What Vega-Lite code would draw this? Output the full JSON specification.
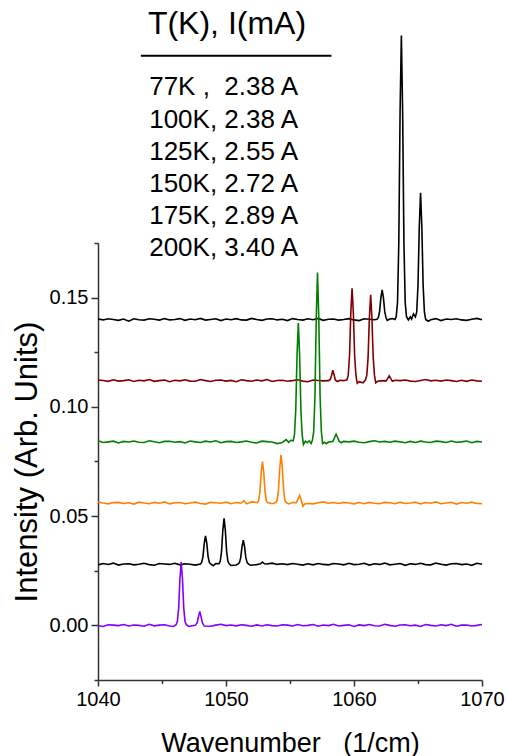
{
"$schema":"https://vega.github.io/schema/vega-lite/v6.json",
"width":384,"height":437,
"autosize":"none",
"padding":{"left":98,"top":243,"right":25,"bottom":76},
"config":{"view":{"stroke":null},"font":"Liberation Sans"},
"datasets":{
"heading":[{"label":"T(K), I(mA)","x":1043.9,"y":0.2706}],
"rows":[
{"label":"77K ,\u00a0 2.38 A","x":1044.0,"y":0.2428},
{"label":"100K, 2.38 A","x":1044.0,"y":0.2278},
{"label":"125K, 2.55 A","x":1044.0,"y":0.2129},
{"label":"150K, 2.72 A","x":1044.0,"y":0.1984},
{"label":"175K, 2.89 A","x":1044.0,"y":0.1837},
{"label":"200K, 3.40 A","x":1044.0,"y":0.1691}],
"underline":[{"x":1043.35,"x2":1058.24,"y":0.2607}],
"spectra":[
{"T":"77K","x":1040,"y":0.1402},{"T":"77K","x":1040.4,"y":0.1398},{"T":"77K","x":1040.8,"y":0.1403},{"T":"77K","x":1041.2,"y":0.1400},{"T":"77K","x":1041.6,"y":0.1396},{"T":"77K","x":1042,"y":0.1402},{"T":"77K","x":1042.4,"y":0.1392},{"T":"77K","x":1042.8,"y":0.1403},{"T":"77K","x":1043.2,"y":0.1399},{"T":"77K","x":1043.6,"y":0.1397},{"T":"77K","x":1044,"y":0.1403},{"T":"77K","x":1044.4,"y":0.1401},{"T":"77K","x":1044.8,"y":0.1397},{"T":"77K","x":1045.2,"y":0.1404},{"T":"77K","x":1045.6,"y":0.1398},{"T":"77K","x":1046,"y":0.1400},{"T":"77K","x":1046.4,"y":0.1404},{"T":"77K","x":1046.8,"y":0.1396},{"T":"77K","x":1047.2,"y":0.1402},{"T":"77K","x":1047.6,"y":0.1399},{"T":"77K","x":1048,"y":0.1405},{"T":"77K","x":1048.4,"y":0.1397},{"T":"77K","x":1048.8,"y":0.1400},{"T":"77K","x":1049.2,"y":0.1403},{"T":"77K","x":1049.6,"y":0.1395},{"T":"77K","x":1050,"y":0.1402},{"T":"77K","x":1050.4,"y":0.1399},{"T":"77K","x":1050.8,"y":0.1404},{"T":"77K","x":1051.2,"y":0.1398},{"T":"77K","x":1051.6,"y":0.1397},{"T":"77K","x":1052,"y":0.1405},{"T":"77K","x":1052.4,"y":0.1400},{"T":"77K","x":1052.8,"y":0.1396},{"T":"77K","x":1053.2,"y":0.1402},{"T":"77K","x":1053.6,"y":0.1403},{"T":"77K","x":1054,"y":0.1398},{"T":"77K","x":1054.4,"y":0.1401},{"T":"77K","x":1054.8,"y":0.1395},{"T":"77K","x":1055.2,"y":0.1404},{"T":"77K","x":1055.6,"y":0.1400},{"T":"77K","x":1056,"y":0.1397},{"T":"77K","x":1056.4,"y":0.1403},{"T":"77K","x":1056.8,"y":0.1399},{"T":"77K","x":1057.2,"y":0.1405},{"T":"77K","x":1057.6,"y":0.1396},{"T":"77K","x":1058,"y":0.1401},{"T":"77K","x":1058.4,"y":0.1402},{"T":"77K","x":1058.8,"y":0.1397},{"T":"77K","x":1059.2,"y":0.1400},{"T":"77K","x":1059.6,"y":0.1404},{"T":"77K","x":1060,"y":0.1398},{"T":"77K","x":1060.4,"y":0.1395},{"T":"77K","x":1060.8,"y":0.1403},{"T":"77K","x":1061.2,"y":0.1401},{"T":"77K","x":1061.6,"y":0.1399},{"T":"77K","x":1061.8,"y":0.1401},{"T":"77K","x":1061.9,"y":0.1408},{"T":"77K","x":1062,"y":0.1437},{"T":"77K","x":1062.1,"y":0.1499},{"T":"77K","x":1062.2,"y":0.1536},{"T":"77K","x":1062.3,"y":0.1499},{"T":"77K","x":1062.4,"y":0.1437},{"T":"77K","x":1062.5,"y":0.1408},{"T":"77K","x":1062.6,"y":0.1396},{"T":"77K","x":1062.8,"y":0.1402},{"T":"77K","x":1063,"y":0.1404},{"T":"77K","x":1063.2,"y":0.1400},{"T":"77K","x":1063.3,"y":0.1413},{"T":"77K","x":1063.4,"y":0.1478},{"T":"77K","x":1063.5,"y":0.1751},{"T":"77K","x":1063.6,"y":0.2349},{"T":"77K","x":1063.7,"y":0.2700},{"T":"77K","x":1063.8,"y":0.2349},{"T":"77K","x":1063.9,"y":0.1751},{"T":"77K","x":1064,"y":0.1478},{"T":"77K","x":1064.1,"y":0.1413},{"T":"77K","x":1064.25,"y":0.1398},{"T":"77K","x":1064.4,"y":0.1412},{"T":"77K","x":1064.5,"y":0.1402},{"T":"77K","x":1064.65,"y":0.1425},{"T":"77K","x":1064.8,"y":0.1412},{"T":"77K","x":1064.9,"y":0.1435},{"T":"77K","x":1065,"y":0.1557},{"T":"77K","x":1065.1,"y":0.1823},{"T":"77K","x":1065.2,"y":0.1980},{"T":"77K","x":1065.3,"y":0.1823},{"T":"77K","x":1065.4,"y":0.1557},{"T":"77K","x":1065.5,"y":0.1435},{"T":"77K","x":1065.6,"y":0.1400},{"T":"77K","x":1065.8,"y":0.1392},{"T":"77K","x":1066,"y":0.1399},{"T":"77K","x":1066.4,"y":0.1404},{"T":"77K","x":1066.8,"y":0.1395},{"T":"77K","x":1067.2,"y":0.1402},{"T":"77K","x":1067.6,"y":0.1400},{"T":"77K","x":1068,"y":0.1403},{"T":"77K","x":1068.4,"y":0.1398},{"T":"77K","x":1068.8,"y":0.1396},{"T":"77K","x":1069.2,"y":0.1401},{"T":"77K","x":1069.6,"y":0.1405},{"T":"77K","x":1070,"y":0.1399},
{"T":"100K","x":1040,"y":0.1123},{"T":"100K","x":1040.4,"y":0.1121},{"T":"100K","x":1040.8,"y":0.1117},{"T":"100K","x":1041.2,"y":0.1124},{"T":"100K","x":1041.6,"y":0.1118},{"T":"100K","x":1042,"y":0.1120},{"T":"100K","x":1042.4,"y":0.1124},{"T":"100K","x":1042.8,"y":0.1116},{"T":"100K","x":1043.2,"y":0.1122},{"T":"100K","x":1043.6,"y":0.1119},{"T":"100K","x":1044,"y":0.1125},{"T":"100K","x":1044.4,"y":0.1117},{"T":"100K","x":1044.8,"y":0.1120},{"T":"100K","x":1045.2,"y":0.1123},{"T":"100K","x":1045.6,"y":0.1115},{"T":"100K","x":1046,"y":0.1122},{"T":"100K","x":1046.4,"y":0.1119},{"T":"100K","x":1046.8,"y":0.1124},{"T":"100K","x":1047.2,"y":0.1118},{"T":"100K","x":1047.6,"y":0.1117},{"T":"100K","x":1048,"y":0.1125},{"T":"100K","x":1048.4,"y":0.1120},{"T":"100K","x":1048.8,"y":0.1116},{"T":"100K","x":1049.2,"y":0.1122},{"T":"100K","x":1049.6,"y":0.1123},{"T":"100K","x":1050,"y":0.1118},{"T":"100K","x":1050.4,"y":0.1121},{"T":"100K","x":1050.8,"y":0.1115},{"T":"100K","x":1051.2,"y":0.1124},{"T":"100K","x":1051.6,"y":0.1120},{"T":"100K","x":1052,"y":0.1117},{"T":"100K","x":1052.4,"y":0.1123},{"T":"100K","x":1052.8,"y":0.1119},{"T":"100K","x":1053.2,"y":0.1125},{"T":"100K","x":1053.6,"y":0.1116},{"T":"100K","x":1054,"y":0.1121},{"T":"100K","x":1054.4,"y":0.1122},{"T":"100K","x":1054.8,"y":0.1117},{"T":"100K","x":1055.2,"y":0.1120},{"T":"100K","x":1055.6,"y":0.1124},{"T":"100K","x":1056,"y":0.1118},{"T":"100K","x":1056.4,"y":0.1115},{"T":"100K","x":1056.8,"y":0.1123},{"T":"100K","x":1057.2,"y":0.1121},{"T":"100K","x":1057.6,"y":0.1119},{"T":"100K","x":1058,"y":0.1120},{"T":"100K","x":1058.15,"y":0.1125},{"T":"100K","x":1058.25,"y":0.1145},{"T":"100K","x":1058.35,"y":0.1168},{"T":"100K","x":1058.45,"y":0.1145},{"T":"100K","x":1058.55,"y":0.1122},{"T":"100K","x":1058.7,"y":0.1116},{"T":"100K","x":1058.9,"y":0.1122},{"T":"100K","x":1059.2,"y":0.1120},{"T":"100K","x":1059.45,"y":0.1124},{"T":"100K","x":1059.55,"y":0.1145},{"T":"100K","x":1059.65,"y":0.1234},{"T":"100K","x":1059.75,"y":0.1429},{"T":"100K","x":1059.85,"y":0.1543},{"T":"100K","x":1059.95,"y":0.1429},{"T":"100K","x":1060.05,"y":0.1234},{"T":"100K","x":1060.15,"y":0.1145},{"T":"100K","x":1060.25,"y":0.1108},{"T":"100K","x":1060.4,"y":0.1115},{"T":"100K","x":1060.7,"y":0.1110},{"T":"100K","x":1060.9,"y":0.1124},{"T":"100K","x":1061,"y":0.1144},{"T":"100K","x":1061.1,"y":0.1226},{"T":"100K","x":1061.2,"y":0.1407},{"T":"100K","x":1061.3,"y":0.1513},{"T":"100K","x":1061.4,"y":0.1407},{"T":"100K","x":1061.5,"y":0.1226},{"T":"100K","x":1061.6,"y":0.1144},{"T":"100K","x":1061.7,"y":0.1110},{"T":"100K","x":1061.85,"y":0.1117},{"T":"100K","x":1062,"y":0.1119},{"T":"100K","x":1062.4,"y":0.1120},{"T":"100K","x":1062.5,"y":0.1118},{"T":"100K","x":1062.6,"y":0.1127},{"T":"100K","x":1062.75,"y":0.1142},{"T":"100K","x":1062.9,"y":0.1127},{"T":"100K","x":1063,"y":0.1117},{"T":"100K","x":1063.2,"y":0.1122},{"T":"100K","x":1063.6,"y":0.1120},{"T":"100K","x":1064,"y":0.1123},{"T":"100K","x":1064.4,"y":0.1118},{"T":"100K","x":1064.8,"y":0.1116},{"T":"100K","x":1065.2,"y":0.1121},{"T":"100K","x":1065.6,"y":0.1125},{"T":"100K","x":1066,"y":0.1119},{"T":"100K","x":1066.4,"y":0.1122},{"T":"100K","x":1066.8,"y":0.1118},{"T":"100K","x":1067.2,"y":0.1123},{"T":"100K","x":1067.6,"y":0.1120},{"T":"100K","x":1068,"y":0.1116},{"T":"100K","x":1068.4,"y":0.1122},{"T":"100K","x":1068.8,"y":0.1117},{"T":"100K","x":1069.2,"y":0.1123},{"T":"100K","x":1069.6,"y":0.1119},{"T":"100K","x":1070,"y":0.1117},
{"T":"125K","x":1040,"y":0.0845},{"T":"125K","x":1040.4,"y":0.0837},{"T":"125K","x":1040.8,"y":0.0840},{"T":"125K","x":1041.2,"y":0.0843},{"T":"125K","x":1041.6,"y":0.0835},{"T":"125K","x":1042,"y":0.0842},{"T":"125K","x":1042.4,"y":0.0839},{"T":"125K","x":1042.8,"y":0.0844},{"T":"125K","x":1043.2,"y":0.0838},{"T":"125K","x":1043.6,"y":0.0837},{"T":"125K","x":1044,"y":0.0845},{"T":"125K","x":1044.4,"y":0.0840},{"T":"125K","x":1044.8,"y":0.0836},{"T":"125K","x":1045.2,"y":0.0842},{"T":"125K","x":1045.6,"y":0.0843},{"T":"125K","x":1046,"y":0.0838},{"T":"125K","x":1046.4,"y":0.0841},{"T":"125K","x":1046.8,"y":0.0835},{"T":"125K","x":1047.2,"y":0.0844},{"T":"125K","x":1047.6,"y":0.0840},{"T":"125K","x":1048,"y":0.0837},{"T":"125K","x":1048.4,"y":0.0843},{"T":"125K","x":1048.8,"y":0.0839},{"T":"125K","x":1049.2,"y":0.0845},{"T":"125K","x":1049.6,"y":0.0836},{"T":"125K","x":1050,"y":0.0841},{"T":"125K","x":1050.4,"y":0.0842},{"T":"125K","x":1050.8,"y":0.0837},{"T":"125K","x":1051.2,"y":0.0840},{"T":"125K","x":1051.6,"y":0.0844},{"T":"125K","x":1052,"y":0.0838},{"T":"125K","x":1052.4,"y":0.0835},{"T":"125K","x":1052.8,"y":0.0843},{"T":"125K","x":1053.2,"y":0.0841},{"T":"125K","x":1053.6,"y":0.0839},{"T":"125K","x":1054,"y":0.0832},{"T":"125K","x":1054.4,"y":0.0837},{"T":"125K","x":1054.7,"y":0.0850},{"T":"125K","x":1054.9,"y":0.0838},{"T":"125K","x":1055.05,"y":0.0847},{"T":"125K","x":1055.25,"y":0.0845},{"T":"125K","x":1055.35,"y":0.0873},{"T":"125K","x":1055.45,"y":0.0987},{"T":"125K","x":1055.55,"y":0.1237},{"T":"125K","x":1055.65,"y":0.1384},{"T":"125K","x":1055.75,"y":0.1237},{"T":"125K","x":1055.85,"y":0.0987},{"T":"125K","x":1055.95,"y":0.0873},{"T":"125K","x":1056.05,"y":0.0828},{"T":"125K","x":1056.2,"y":0.0843},{"T":"125K","x":1056.35,"y":0.0836},{"T":"125K","x":1056.5,"y":0.0845},{"T":"125K","x":1056.65,"y":0.0832},{"T":"125K","x":1056.75,"y":0.0848},{"T":"125K","x":1056.85,"y":0.0887},{"T":"125K","x":1056.95,"y":0.1049},{"T":"125K","x":1057.05,"y":0.1406},{"T":"125K","x":1057.15,"y":0.1615},{"T":"125K","x":1057.25,"y":0.1406},{"T":"125K","x":1057.35,"y":0.1049},{"T":"125K","x":1057.45,"y":0.0887},{"T":"125K","x":1057.55,"y":0.0832},{"T":"125K","x":1057.7,"y":0.0838},{"T":"125K","x":1057.85,"y":0.0831},{"T":"125K","x":1058,"y":0.0839},{"T":"125K","x":1058.35,"y":0.0842},{"T":"125K","x":1058.5,"y":0.0862},{"T":"125K","x":1058.6,"y":0.0875},{"T":"125K","x":1058.7,"y":0.0862},{"T":"125K","x":1058.85,"y":0.0842},{"T":"125K","x":1059,"y":0.0836},{"T":"125K","x":1059.2,"y":0.0842},{"T":"125K","x":1059.6,"y":0.0840},{"T":"125K","x":1060,"y":0.0843},{"T":"125K","x":1060.4,"y":0.0838},{"T":"125K","x":1060.8,"y":0.0836},{"T":"125K","x":1061.2,"y":0.0841},{"T":"125K","x":1061.6,"y":0.0845},{"T":"125K","x":1062,"y":0.0839},{"T":"125K","x":1062.4,"y":0.0842},{"T":"125K","x":1062.8,"y":0.0838},{"T":"125K","x":1063.2,"y":0.0843},{"T":"125K","x":1063.6,"y":0.0840},{"T":"125K","x":1064,"y":0.0836},{"T":"125K","x":1064.4,"y":0.0842},{"T":"125K","x":1064.8,"y":0.0837},{"T":"125K","x":1065.2,"y":0.0843},{"T":"125K","x":1065.6,"y":0.0839},{"T":"125K","x":1066,"y":0.0837},{"T":"125K","x":1066.4,"y":0.0843},{"T":"125K","x":1066.8,"y":0.0841},{"T":"125K","x":1067.2,"y":0.0837},{"T":"125K","x":1067.6,"y":0.0844},{"T":"125K","x":1068,"y":0.0838},{"T":"125K","x":1068.4,"y":0.0840},{"T":"125K","x":1068.8,"y":0.0844},{"T":"125K","x":1069.2,"y":0.0836},{"T":"125K","x":1069.6,"y":0.0842},{"T":"125K","x":1070,"y":0.0839},
{"T":"150K","x":1040,"y":0.0565},{"T":"150K","x":1040.4,"y":0.0560},{"T":"150K","x":1040.8,"y":0.0556},{"T":"150K","x":1041.2,"y":0.0562},{"T":"150K","x":1041.6,"y":0.0563},{"T":"150K","x":1042,"y":0.0558},{"T":"150K","x":1042.4,"y":0.0561},{"T":"150K","x":1042.8,"y":0.0555},{"T":"150K","x":1043.2,"y":0.0564},{"T":"150K","x":1043.6,"y":0.0560},{"T":"150K","x":1044,"y":0.0557},{"T":"150K","x":1044.4,"y":0.0563},{"T":"150K","x":1044.8,"y":0.0559},{"T":"150K","x":1045.2,"y":0.0565},{"T":"150K","x":1045.6,"y":0.0556},{"T":"150K","x":1046,"y":0.0561},{"T":"150K","x":1046.4,"y":0.0562},{"T":"150K","x":1046.8,"y":0.0557},{"T":"150K","x":1047.2,"y":0.0560},{"T":"150K","x":1047.6,"y":0.0564},{"T":"150K","x":1048,"y":0.0558},{"T":"150K","x":1048.4,"y":0.0555},{"T":"150K","x":1048.8,"y":0.0563},{"T":"150K","x":1049.2,"y":0.0561},{"T":"150K","x":1049.6,"y":0.0559},{"T":"150K","x":1050,"y":0.0564},{"T":"150K","x":1050.4,"y":0.0557},{"T":"150K","x":1050.8,"y":0.0562},{"T":"150K","x":1051.2,"y":0.0560},{"T":"150K","x":1051.4,"y":0.0571},{"T":"150K","x":1051.6,"y":0.0556},{"T":"150K","x":1052,"y":0.0565},{"T":"150K","x":1052.45,"y":0.0562},{"T":"150K","x":1052.55,"y":0.0571},{"T":"150K","x":1052.65,"y":0.0611},{"T":"150K","x":1052.75,"y":0.0699},{"T":"150K","x":1052.85,"y":0.0750},{"T":"150K","x":1052.95,"y":0.0699},{"T":"150K","x":1053.05,"y":0.0611},{"T":"150K","x":1053.15,"y":0.0571},{"T":"150K","x":1053.25,"y":0.0562},{"T":"150K","x":1053.6,"y":0.0557},{"T":"150K","x":1053.9,"y":0.0562},{"T":"150K","x":1054,"y":0.0573},{"T":"150K","x":1054.1,"y":0.0619},{"T":"150K","x":1054.2,"y":0.0721},{"T":"150K","x":1054.3,"y":0.0780},{"T":"150K","x":1054.4,"y":0.0721},{"T":"150K","x":1054.5,"y":0.0619},{"T":"150K","x":1054.6,"y":0.0573},{"T":"150K","x":1054.7,"y":0.0562},{"T":"150K","x":1054.9,"y":0.0556},{"T":"150K","x":1055.2,"y":0.0562},{"T":"150K","x":1055.5,"y":0.0562},{"T":"150K","x":1055.65,"y":0.0582},{"T":"150K","x":1055.75,"y":0.0595},{"T":"150K","x":1055.85,"y":0.0578},{"T":"150K","x":1056,"y":0.0545},{"T":"150K","x":1056.15,"y":0.0556},{"T":"150K","x":1056.4,"y":0.0558},{"T":"150K","x":1056.8,"y":0.0556},{"T":"150K","x":1057.2,"y":0.0561},{"T":"150K","x":1057.6,"y":0.0565},{"T":"150K","x":1058,"y":0.0559},{"T":"150K","x":1058.4,"y":0.0562},{"T":"150K","x":1058.8,"y":0.0558},{"T":"150K","x":1059.2,"y":0.0563},{"T":"150K","x":1059.6,"y":0.0560},{"T":"150K","x":1060,"y":0.0556},{"T":"150K","x":1060.4,"y":0.0562},{"T":"150K","x":1060.8,"y":0.0557},{"T":"150K","x":1061.2,"y":0.0563},{"T":"150K","x":1061.6,"y":0.0559},{"T":"150K","x":1062,"y":0.0557},{"T":"150K","x":1062.4,"y":0.0563},{"T":"150K","x":1062.8,"y":0.0561},{"T":"150K","x":1063.2,"y":0.0557},{"T":"150K","x":1063.6,"y":0.0564},{"T":"150K","x":1064,"y":0.0558},{"T":"150K","x":1064.4,"y":0.0560},{"T":"150K","x":1064.8,"y":0.0564},{"T":"150K","x":1065.2,"y":0.0556},{"T":"150K","x":1065.6,"y":0.0562},{"T":"150K","x":1066,"y":0.0559},{"T":"150K","x":1066.4,"y":0.0565},{"T":"150K","x":1066.8,"y":0.0557},{"T":"150K","x":1067.2,"y":0.0560},{"T":"150K","x":1067.6,"y":0.0563},{"T":"150K","x":1068,"y":0.0555},{"T":"150K","x":1068.4,"y":0.0562},{"T":"150K","x":1068.8,"y":0.0559},{"T":"150K","x":1069.2,"y":0.0564},{"T":"150K","x":1069.6,"y":0.0558},{"T":"150K","x":1070,"y":0.0557},
{"T":"175K","x":1040,"y":0.0277},{"T":"175K","x":1040.4,"y":0.0283},{"T":"175K","x":1040.8,"y":0.0279},{"T":"175K","x":1041.2,"y":0.0285},{"T":"175K","x":1041.6,"y":0.0276},{"T":"175K","x":1042,"y":0.0281},{"T":"175K","x":1042.4,"y":0.0282},{"T":"175K","x":1042.8,"y":0.0277},{"T":"175K","x":1043.2,"y":0.0280},{"T":"175K","x":1043.6,"y":0.0284},{"T":"175K","x":1044,"y":0.0278},{"T":"175K","x":1044.4,"y":0.0275},{"T":"175K","x":1044.8,"y":0.0283},{"T":"175K","x":1045.2,"y":0.0281},{"T":"175K","x":1045.6,"y":0.0279},{"T":"175K","x":1046,"y":0.0284},{"T":"175K","x":1046.4,"y":0.0277},{"T":"175K","x":1046.8,"y":0.0282},{"T":"175K","x":1047.2,"y":0.0280},{"T":"175K","x":1047.6,"y":0.0276},{"T":"175K","x":1048,"y":0.0281},{"T":"175K","x":1048.1,"y":0.0288},{"T":"175K","x":1048.2,"y":0.0315},{"T":"175K","x":1048.3,"y":0.0375},{"T":"175K","x":1048.4,"y":0.0410},{"T":"175K","x":1048.5,"y":0.0375},{"T":"175K","x":1048.6,"y":0.0315},{"T":"175K","x":1048.7,"y":0.0288},{"T":"175K","x":1048.8,"y":0.0281},{"T":"175K","x":1049,"y":0.0273},{"T":"175K","x":1049.2,"y":0.0283},{"T":"175K","x":1049.45,"y":0.0282},{"T":"175K","x":1049.55,"y":0.0293},{"T":"175K","x":1049.65,"y":0.0337},{"T":"175K","x":1049.75,"y":0.0433},{"T":"175K","x":1049.85,"y":0.0490},{"T":"175K","x":1049.95,"y":0.0433},{"T":"175K","x":1050.05,"y":0.0337},{"T":"175K","x":1050.15,"y":0.0293},{"T":"175K","x":1050.25,"y":0.0282},{"T":"175K","x":1050.4,"y":0.0274},{"T":"175K","x":1050.8,"y":0.0276},{"T":"175K","x":1050.95,"y":0.0281},{"T":"175K","x":1051.05,"y":0.0287},{"T":"175K","x":1051.15,"y":0.0310},{"T":"175K","x":1051.25,"y":0.0360},{"T":"175K","x":1051.35,"y":0.0390},{"T":"175K","x":1051.45,"y":0.0360},{"T":"175K","x":1051.55,"y":0.0310},{"T":"175K","x":1051.65,"y":0.0287},{"T":"175K","x":1051.75,"y":0.0281},{"T":"175K","x":1051.9,"y":0.0275},{"T":"175K","x":1052.4,"y":0.0278},{"T":"175K","x":1052.7,"y":0.0282},{"T":"175K","x":1052.85,"y":0.0290},{"T":"175K","x":1053,"y":0.0282},{"T":"175K","x":1053.2,"y":0.0281},{"T":"175K","x":1053.6,"y":0.0285},{"T":"175K","x":1054,"y":0.0279},{"T":"175K","x":1054.4,"y":0.0282},{"T":"175K","x":1054.8,"y":0.0278},{"T":"175K","x":1055.2,"y":0.0283},{"T":"175K","x":1055.6,"y":0.0280},{"T":"175K","x":1056,"y":0.0276},{"T":"175K","x":1056.4,"y":0.0282},{"T":"175K","x":1056.8,"y":0.0277},{"T":"175K","x":1057.2,"y":0.0283},{"T":"175K","x":1057.6,"y":0.0279},{"T":"175K","x":1058,"y":0.0277},{"T":"175K","x":1058.4,"y":0.0283},{"T":"175K","x":1058.8,"y":0.0281},{"T":"175K","x":1059.2,"y":0.0277},{"T":"175K","x":1059.6,"y":0.0284},{"T":"175K","x":1060,"y":0.0278},{"T":"175K","x":1060.4,"y":0.0280},{"T":"175K","x":1060.8,"y":0.0284},{"T":"175K","x":1061.2,"y":0.0276},{"T":"175K","x":1061.6,"y":0.0282},{"T":"175K","x":1062,"y":0.0279},{"T":"175K","x":1062.4,"y":0.0285},{"T":"175K","x":1062.8,"y":0.0277},{"T":"175K","x":1063.2,"y":0.0280},{"T":"175K","x":1063.6,"y":0.0283},{"T":"175K","x":1064,"y":0.0275},{"T":"175K","x":1064.4,"y":0.0282},{"T":"175K","x":1064.8,"y":0.0279},{"T":"175K","x":1065.2,"y":0.0284},{"T":"175K","x":1065.6,"y":0.0278},{"T":"175K","x":1066,"y":0.0277},{"T":"175K","x":1066.4,"y":0.0285},{"T":"175K","x":1066.8,"y":0.0280},{"T":"175K","x":1067.2,"y":0.0276},{"T":"175K","x":1067.6,"y":0.0282},{"T":"175K","x":1068,"y":0.0283},{"T":"175K","x":1068.4,"y":0.0278},{"T":"175K","x":1068.8,"y":0.0281},{"T":"175K","x":1069.2,"y":0.0275},{"T":"175K","x":1069.6,"y":0.0284},{"T":"175K","x":1070,"y":0.0280},
{"T":"200K","x":1040,"y":-0.0002},{"T":"200K","x":1040.4,"y":-0.0005},{"T":"200K","x":1040.8,"y":0.0003},{"T":"200K","x":1041.2,"y":0.0001},{"T":"200K","x":1041.6,"y":-0.0001},{"T":"200K","x":1042,"y":0.0004},{"T":"200K","x":1042.4,"y":-0.0003},{"T":"200K","x":1042.8,"y":0.0002},{"T":"200K","x":1043.2,"y":0},{"T":"200K","x":1043.6,"y":-0.0004},{"T":"200K","x":1044,"y":0.0005},{"T":"200K","x":1044.4,"y":-0.0002},{"T":"200K","x":1044.8,"y":0.0001},{"T":"200K","x":1045.2,"y":0.0003},{"T":"200K","x":1045.6,"y":-0.0003},{"T":"200K","x":1045.9,"y":-0.0005},{"T":"200K","x":1046.1,"y":0.0003},{"T":"200K","x":1046.2,"y":0.0017},{"T":"200K","x":1046.3,"y":0.0078},{"T":"200K","x":1046.4,"y":0.0212},{"T":"200K","x":1046.5,"y":0.0290},{"T":"200K","x":1046.6,"y":0.0212},{"T":"200K","x":1046.7,"y":0.0078},{"T":"200K","x":1046.8,"y":0.0017},{"T":"200K","x":1046.9,"y":0.0003},{"T":"200K","x":1047.1,"y":-0.0005},{"T":"200K","x":1047.35,"y":-0.0002},{"T":"200K","x":1047.6,"y":0},{"T":"200K","x":1047.75,"y":0.0012},{"T":"200K","x":1047.85,"y":0.0040},{"T":"200K","x":1047.95,"y":0.0064},{"T":"200K","x":1048.05,"y":0.0040},{"T":"200K","x":1048.15,"y":0.0012},{"T":"200K","x":1048.3,"y":-0.0003},{"T":"200K","x":1048.8,"y":-0.0004},{"T":"200K","x":1049.2,"y":0.0001},{"T":"200K","x":1049.6,"y":0.0005},{"T":"200K","x":1050,"y":-0.0001},{"T":"200K","x":1050.4,"y":0.0002},{"T":"200K","x":1050.8,"y":-0.0002},{"T":"200K","x":1051.2,"y":0.0003},{"T":"200K","x":1051.6,"y":0},{"T":"200K","x":1052,"y":-0.0004},{"T":"200K","x":1052.4,"y":0.0002},{"T":"200K","x":1052.8,"y":-0.0003},{"T":"200K","x":1053.2,"y":0.0003},{"T":"200K","x":1053.6,"y":-0.0001},{"T":"200K","x":1054,"y":-0.0003},{"T":"200K","x":1054.4,"y":0.0003},{"T":"200K","x":1054.8,"y":0.0001},{"T":"200K","x":1055.2,"y":-0.0003},{"T":"200K","x":1055.6,"y":0.0004},{"T":"200K","x":1056,"y":-0.0002},{"T":"200K","x":1056.4,"y":0},{"T":"200K","x":1056.8,"y":0.0004},{"T":"200K","x":1057.2,"y":-0.0004},{"T":"200K","x":1057.6,"y":0.0002},{"T":"200K","x":1058,"y":-0.0001},{"T":"200K","x":1058.4,"y":0.0005},{"T":"200K","x":1058.8,"y":-0.0003},{"T":"200K","x":1059.2,"y":0},{"T":"200K","x":1059.6,"y":0.0003},{"T":"200K","x":1060,"y":-0.0005},{"T":"200K","x":1060.4,"y":0.0002},{"T":"200K","x":1060.8,"y":-0.0001},{"T":"200K","x":1061.2,"y":0.0004},{"T":"200K","x":1061.6,"y":-0.0002},{"T":"200K","x":1062,"y":-0.0003},{"T":"200K","x":1062.4,"y":0.0005},{"T":"200K","x":1062.8,"y":0},{"T":"200K","x":1063.2,"y":-0.0004},{"T":"200K","x":1063.6,"y":0.0002},{"T":"200K","x":1064,"y":0.0003},{"T":"200K","x":1064.4,"y":-0.0002},{"T":"200K","x":1064.8,"y":0.0001},{"T":"200K","x":1065.2,"y":-0.0005},{"T":"200K","x":1065.6,"y":0.0004},{"T":"200K","x":1066,"y":0},{"T":"200K","x":1066.4,"y":-0.0003},{"T":"200K","x":1066.8,"y":0.0003},{"T":"200K","x":1067.2,"y":-0.0001},{"T":"200K","x":1067.6,"y":0.0005},{"T":"200K","x":1068,"y":-0.0004},{"T":"200K","x":1068.4,"y":0.0001},{"T":"200K","x":1068.8,"y":0.0002},{"T":"200K","x":1069.2,"y":-0.0003},{"T":"200K","x":1069.6,"y":0},{"T":"200K","x":1070,"y":0.0004}
]},
"layer":[
{"data":{"name":"spectra"},
 "mark":{"type":"line","strokeWidth":1.6,"clip":false},
 "encoding":{
  "x":{"field":"x","type":"quantitative",
   "scale":{"domain":[1040,1070],"nice":false,"zero":false},
   "axis":{"values":[1040,1045,1050,1055,1060,1065,1070],"format":"d",
    "labelExpr":"datum.value % 10 === 0 ? datum.label : ''",
    "tickSize":{"condition":{"test":"datum.value % 10 === 0","value":6},"value":3.5},
    "grid":false,"labelFlush":false,"labelOverlap":false,
    "labelFontSize":20,"labelColor":"#000","labelPadding":3,
    "domainColor":"#333","tickColor":"#333","domainWidth":1.5,"tickWidth":1.5,
    "title":"Wavenumber\u00a0\u00a0 (1/cm)","titleFontSize":27,"titleFontWeight":"normal","titleColor":"#000","titlePadding":21}},
  "y":{"field":"y","type":"quantitative",
   "scale":{"domain":[-0.025,0.175],"nice":false,"zero":false},
   "axis":{"values":[-0.025,0,0.025,0.05,0.075,0.1,0.125,0.15,0.175],
    "labelExpr":"abs(datum.value*20 - round(datum.value*20)) < 0.001 ? format(datum.value, '.2f') : ''",
    "tickSize":{"condition":{"test":"abs(datum.value*20 - round(datum.value*20)) < 0.001","value":7},"value":4},
    "grid":false,"labelOverlap":false,"labelFlush":false,
    "labelFontSize":20,"labelColor":"#000","labelPadding":3,
    "domainColor":"#333","tickColor":"#333","domainWidth":1.5,"tickWidth":1.5,
    "title":"Intensity (Arb. Units)","titleFontSize":31,"titleFontWeight":"normal","titleColor":"#000","titlePadding":6}},
  "color":{"field":"T","type":"nominal",
   "scale":{"domain":["77K","100K","125K","150K","175K","200K"],"range":["#000000","#800000","#008000","#FF8000","#000000","#8000FF"]},
   "legend":null}}},
{"data":{"name":"underline"},
 "mark":{"type":"rule","strokeWidth":2,"color":"#000"},
 "encoding":{"x":{"field":"x","type":"quantitative"},"x2":{"field":"x2"},"y":{"field":"y","type":"quantitative"}}},
{"data":{"name":"heading"},
 "mark":{"type":"text","align":"left","baseline":"alphabetic","fontSize":32,"color":"#000"},
 "encoding":{"x":{"field":"x","type":"quantitative"},"y":{"field":"y","type":"quantitative"},"text":{"field":"label"}}},
{"data":{"name":"rows"},
 "mark":{"type":"text","align":"left","baseline":"alphabetic","fontSize":26,"color":"#000"},
 "encoding":{"x":{"field":"x","type":"quantitative"},"y":{"field":"y","type":"quantitative"},"text":{"field":"label"}}}
]
}
